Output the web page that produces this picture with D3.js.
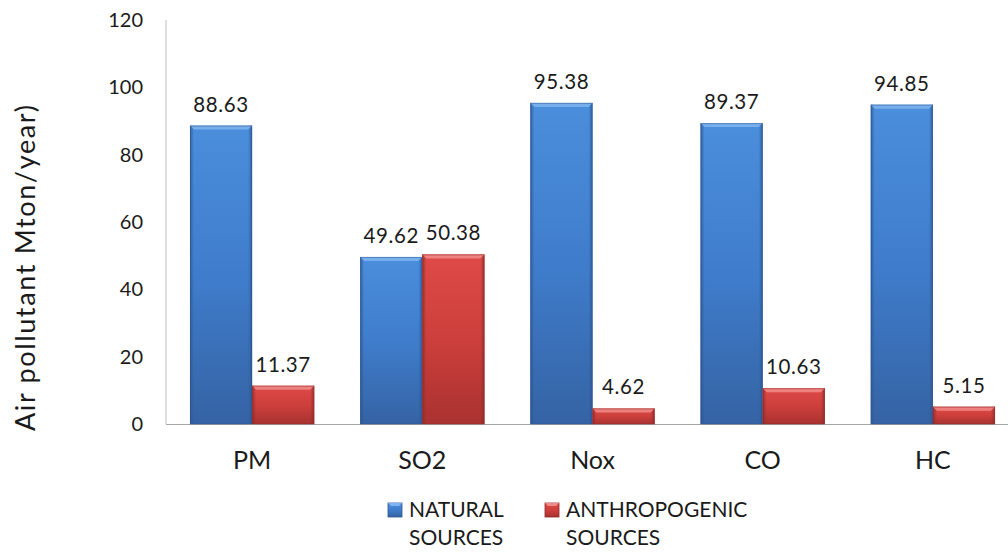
<!DOCTYPE html>
<html>
<head>
<meta charset="utf-8">
<script src="https://cdn.jsdelivr.net/npm/d3@7"></script>
<style>
  html, body { margin: 0; padding: 0; background: #fff; }
  svg { display: block; font-family: Lato, "Open Sans", sans-serif; }
</style>
</head>
<body>
<svg id="chart" width="1008" height="552"></svg>
<script>
const categories = ["PM", "SO2", "Nox", "CO", "HC"];
const naturalValues = [88.63, 49.62, 95.38, 89.37, 94.85];
const anthropogenicValues = [11.37, 50.38, 4.62, 10.63, 5.15];
const seriesNames = ["NATURAL SOURCES", "ANTHROPOGENIC SOURCES"];
const seriesLegendLines = [["NATURAL", "SOURCES"], ["ANTHROPOGENIC", "SOURCES"]];
const yTicks = [0, 20, 40, 60, 80, 100, 120];
const yTitle = "Air pollutant Mton/year)";

const svg = d3.select("#chart");
const plot = { left: 166, top: 20, bottom: 424, right: 1008 };

const y = d3.scaleLinear().domain([0, 120]).range([plot.bottom, plot.top]);
const x0 = d3.scaleBand().domain(categories).range([167, 1018]).paddingInner(0.27).paddingOuter(0.135);
const x1 = d3.scaleBand().domain([0, 1]).range([0, x0.bandwidth()]);

const defs = svg.append("defs");
const palettes = [
  { top: "#4b8edc", mid: "#3f7dcc", bot: "#3563a4", hi: "#7fb5f0", edge: "#2d5590" },
  { top: "#de4a47", mid: "#cd3f3c", bot: "#a93230", hi: "#f08c88", edge: "#8e2a28" }
];
palettes.forEach((p, i) => {
  const g = defs.append("linearGradient").attr("id", "body" + i)
    .attr("x1", 0).attr("y1", 0).attr("x2", 0).attr("y2", 1);
  g.append("stop").attr("offset", "0%").attr("stop-color", p.top);
  g.append("stop").attr("offset", "50%").attr("stop-color", p.mid);
  g.append("stop").attr("offset", "100%").attr("stop-color", p.bot);
  const h = defs.append("linearGradient").attr("id", "sideL" + i)
    .attr("x1", 0).attr("y1", 0).attr("x2", 1).attr("y2", 0);
  h.append("stop").attr("offset", "0%").attr("stop-color", p.edge).attr("stop-opacity", 0.8);
  h.append("stop").attr("offset", "100%").attr("stop-color", p.edge).attr("stop-opacity", 0);
  const h2 = defs.append("linearGradient").attr("id", "sideR" + i)
    .attr("x1", 1).attr("y1", 0).attr("x2", 0).attr("y2", 0);
  h2.append("stop").attr("offset", "0%").attr("stop-color", p.edge).attr("stop-opacity", 0.8);
  h2.append("stop").attr("offset", "100%").attr("stop-color", p.edge).attr("stop-opacity", 0);
});

// axes lines
svg.append("line").attr("x1", plot.left).attr("x2", plot.left)
  .attr("y1", plot.top).attr("y2", plot.bottom).attr("stroke", "#bfbfbf").attr("stroke-width", 1);
svg.append("line").attr("x1", plot.left).attr("x2", plot.right)
  .attr("y1", plot.bottom + 0.5).attr("y2", plot.bottom + 0.5).attr("stroke", "#a6a6a6").attr("stroke-width", 1);

// y tick labels
const yAxis = d3.axisLeft(y).tickValues(yTicks).tickSize(0).tickPadding(0);
const yg = svg.append("g").attr("transform", `translate(${plot.left - 23},0)`).call(yAxis);
yg.select(".domain").remove();
yg.selectAll("text").attr("font-size", 20).attr("fill", "#1a1a1a").attr("font-family", "Lato, sans-serif");

// x labels
const xAxis = d3.axisBottom(x0).tickSize(0).tickPadding(0);
const xg = svg.append("g").attr("transform", `translate(0,${plot.bottom + 27})`).call(xAxis);
xg.select(".domain").remove();
xg.selectAll("text").attr("font-size", 25).attr("fill", "#1a1a1a").attr("font-family", "Lato, sans-serif");

// y title
svg.append("text").attr("transform", `translate(35,268) rotate(-90)`)
  .attr("text-anchor", "middle").attr("font-size", 27).attr("fill", "#1a1a1a")
  .attr("textLength", 326).attr("lengthAdjust", "spacing")
  .text(yTitle);

// bars
const rows = categories.map((c, i) => ({ cat: c, vals: [naturalValues[i], anthropogenicValues[i]] }));
const groups = svg.selectAll("g.grp").data(rows).join("g").attr("class", "grp")
  .attr("transform", d => `translate(${x0(d.cat)},0)`);

const bars = groups.selectAll("g.bar").data(d => d.vals.map((v, s) => ({ v, s }))).join("g").attr("class", "bar");
bars.each(function(d) {
  const g = d3.select(this);
  const bx = x1(d.s), bw = x1.bandwidth();
  const by = y(d.v), bh = y(0) - y(d.v);
  const p = palettes[d.s];
  g.append("rect").attr("x", bx).attr("y", by).attr("width", bw).attr("height", bh)
    .attr("fill", `url(#body${d.s})`);
  const e = Math.min(4, bh / 2);
  g.append("rect").attr("x", bx).attr("y", by).attr("width", 4).attr("height", bh).attr("fill", `url(#sideL${d.s})`);
  g.append("rect").attr("x", bx + bw - 4).attr("y", by).attr("width", 4).attr("height", bh).attr("fill", `url(#sideR${d.s})`);
  g.append("path")
    .attr("d", `M${bx},${by} L${bx + bw},${by} L${bx + bw - e},${by + e} L${bx + e},${by + e} Z`)
    .attr("fill", p.hi).attr("opacity", 0.85);
  g.append("rect").attr("x", bx + 0.5).attr("y", by + 0.5).attr("width", bw - 1).attr("height", bh - 0.5)
    .attr("fill", "none").attr("stroke", p.edge).attr("stroke-opacity", 0.5).attr("stroke-width", 1);
  g.append("text").attr("x", bx + bw / 2).attr("y", by - 14)
    .attr("text-anchor", "middle").attr("font-size", 20.5).attr("fill", "#1a1a1a")
    .attr("letter-spacing", 0.6)
    .text(d.v.toFixed(2));
});

// legend
const legendX = [388, 545];
seriesNames.forEach((name, i) => {
  const lg = svg.append("g");
  const p = palettes[i];
  lg.append("rect").attr("x", legendX[i]).attr("y", 503).attr("width", 14).attr("height", 14)
    .attr("fill", `url(#body${i})`).attr("stroke", p.edge).attr("stroke-width", 0.8);
  lg.append("path").attr("d", `M${legendX[i]},503 h14 l-3,3 h-8 z`).attr("fill", p.hi);
  seriesLegendLines[i].forEach((line, j) => {
    lg.append("text").attr("x", legendX[i] + 21).attr("y", 517 + j * 28)
      .attr("font-size", 21).attr("fill", "#1a1a1a").text(line);
  });
});
</script>
</body>
</html>
